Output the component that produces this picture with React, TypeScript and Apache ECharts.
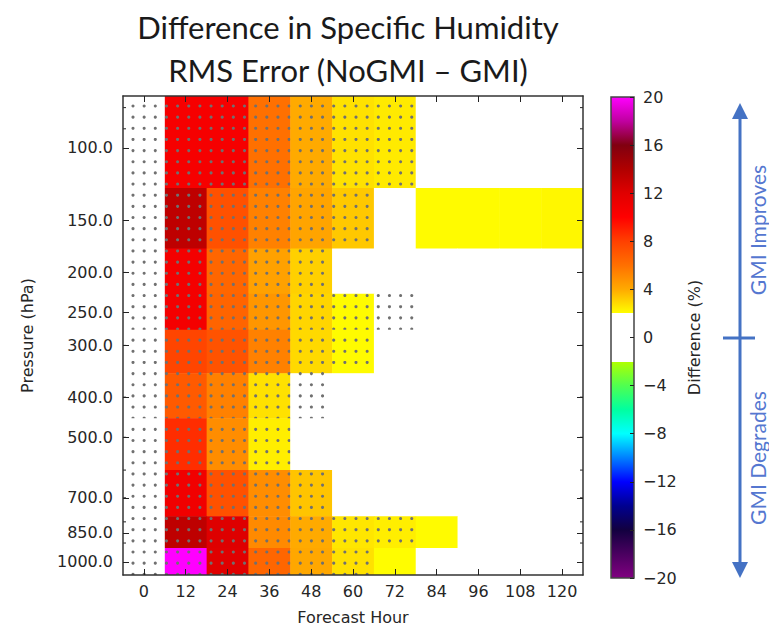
import React, { useEffect, useRef } from "react";
import * as echarts from "echarts";

// ---------- data ----------
const hours = [0, 12, 24, 36, 48, 60, 72, 84, 96, 108, 120];
const levels = [100, 150, 200, 250, 300, 400, 500, 700, 850, 1000];
// pressure cell edges (hPa), top to bottom
const levelEdges = [75, 125, 175, 225, 275, 350, 450, 600, 775, 925, 1075];
const hourHalfWidth = 6;
const pressureTicks = [100, 150, 200, 250, 300, 400, 500, 700, 850, 1000];
const pressureMinorTicks = [80, 90, 200, 300, 400, 500, 600, 700, 800, 900];
const hourTicks = [0, 12, 24, 36, 48, 60, 72, 84, 96, 108, 120];
const colorbarTicks = [-20, -16, -12, -8, -4, 0, 4, 8, 12, 16, 20];

// difference (%) per level (rows) and forecast hour (columns)
const diff100 = [0.6, 10.6, 10.6, 6.0, 4.0, 2.7, 2.5, 0.4, 0.3, 0.2, 0.3];
const diff150 = [0.8, 13.4, 7.3, 5.4, 4.2, 3.3, 1.4, 2.1, 2.1, 2.1, 2.2];
const diff200 = [0.7, 10.7, 6.4, 4.3, 3.1, 1.1, 0.6, 0.2, 0.1, 0.1, 0.2];
const diff250 = [0.7, 10.7, 6.5, 4.7, 3.0, 2.1, 1.5, 0.4, 0.2, 0.1, 0.1];
const diff300 = [0.5, 7.8, 7.2, 5.4, 2.9, 2.1, 1.0, 0.3, 0.2, 0.1, 0.1];
const diff400 = [0.4, 6.9, 5.4, 2.7, 1.3, 0.6, 0.3, 0.2, 0.1, 0.1, 0.1];
const diff500 = [0.3, 8.6, 5.0, 2.4, 0.8, 0.4, 0.2, 0.1, 0.1, 0.1, 0.1];
const diff700 = [0.5, 10.9, 7.3, 5.0, 3.4, 1.0, 0.6, 0.3, 0.2, 0.1, 0.1];
const diff850 = [0.6, 13.4, 12.1, 5.1, 4.0, 2.6, 2.4, 2.1, 0.5, 0.3, 0.2];
const diff1000 = [0.9, 20.0, 12.0, 6.4, 4.1, 2.7, 2.05, 0.4, 0.3, 0.2, 0.1];
const diffRows = [diff100, diff150, diff200, diff250, diff300, diff400, diff500, diff700, diff850, diff1000];

// statistically significant cells (stippled)
const sig100 = [1, 1, 1, 1, 1, 1, 1, 0, 0, 0, 0];
const sig150 = [1, 1, 1, 1, 1, 1, 0, 0, 0, 0, 0];
const sig200 = [1, 1, 1, 1, 1, 0, 0, 0, 0, 0, 0];
const sig250 = [1, 1, 1, 1, 1, 1, 1, 0, 0, 0, 0];
const sig300 = [1, 1, 1, 1, 1, 1, 0, 0, 0, 0, 0];
const sig400 = [1, 1, 1, 1, 1, 0, 0, 0, 0, 0, 0];
const sig500 = [1, 1, 1, 1, 0, 0, 0, 0, 0, 0, 0];
const sig700 = [1, 1, 1, 1, 1, 0, 0, 0, 0, 0, 0];
const sig850 = [1, 1, 1, 1, 1, 1, 1, 0, 0, 0, 0];
const sig1000 = [1, 1, 1, 1, 1, 1, 0, 0, 0, 0, 0];
const sigRows = [sig100, sig150, sig200, sig250, sig300, sig400, sig500, sig700, sig850, sig1000];

// colormap definition (value -> colour); |v| < 2 is white
const cmapStops: [number, string][] = [
  [-20, "#800080"], [-18, "#4a0060"], [-16, "#120040"], [-14, "#000090"], [-12, "#0000ff"],
  [-10, "#0080ff"], [-8, "#00ffff"], [-6, "#00ffa0"], [-4, "#50ff50"], [-2, "#b0ff00"],
  [2, "#ffff00"], [4, "#ffaa00"], [6, "#ff7000"], [8, "#ff4000"], [10, "#ff0000"],
  [12, "#e00000"], [14, "#b00000"], [16, "#800010"], [18, "#c000a0"], [20, "#ff00ff"],
];
const whiteBand = 2;

// ---------- helpers ----------
function hexToRgb(h: string) {
  const n = parseInt(h.slice(1), 16);
  return [(n >> 16) & 255, (n >> 8) & 255, n & 255];
}
function mix(a: string, b: string, t: number) {
  const ca = hexToRgb(a), cb = hexToRgb(b);
  const c = ca.map((v, i) => Math.round(v + (cb[i] - v) * t));
  return `rgb(${c[0]},${c[1]},${c[2]})`;
}
function cmapColor(v: number): string {
  if (v > -whiteBand && v < whiteBand) return "#ffffff";
  if (v <= cmapStops[0][0]) return cmapStops[0][1];
  const last = cmapStops[cmapStops.length - 1];
  if (v >= last[0]) return last[1];
  for (let i = 0; i < cmapStops.length - 1; i++) {
    const [a, ca] = cmapStops[i];
    const [b, cb] = cmapStops[i + 1];
    if (v >= a && v <= b) return mix(ca, cb, (v - a) / (b - a));
  }
  return "#ffffff";
}
const lg = (p: number) => Math.log10(p);
const minus = (s: string) => s.replace("-", "\u2212");

export default function App() {
  const ref = useRef<HTMLDivElement>(null);
  useEffect(() => {
    if (!ref.current) return;
    const chart = echarts.init(ref.current, null, { renderer: "svg" });

    const cellData: number[][] = [];
    diffRows.forEach((row, li) => {
      row.forEach((v, hi) => {
        cellData.push([hours[hi], lg(levels[li]), v, sigRows[li][hi], li]);
      });
    });

    const xMin = hours[0] - hourHalfWidth;
    const xMax = hours[hours.length - 1] + hourHalfWidth;
    const yMin = lg(levelEdges[0]);
    const yMax = lg(levelEdges[levelEdges.length - 1]);

    // colorbar gradient, top (20) to bottom (-20)
    const cbMin = colorbarTicks[0], cbMax = colorbarTicks[colorbarTicks.length - 1];
    const off = (v: number) => (cbMax - v) / (cbMax - cbMin);
    const grad: { offset: number; color: string }[] = [];
    [...cmapStops].reverse().forEach(([v, c]) => {
      if (v === -whiteBand) {
        grad.push({ offset: off(whiteBand), color: "#ffffff" });
        grad.push({ offset: off(-whiteBand), color: "#ffffff" });
      }
      grad.push({ offset: off(v), color: c });
    });

    const tickFont = { fontFamily: "DejaVu Sans", fontSize: 16, color: "#262626" };
    const frame = { show: true, onZero: false, lineStyle: { color: "#333", width: 1.5 } };

    const option: any = {
      animation: false,
      grid: [
        { left: 123, top: 96, width: 460, height: 481 },
        { left: 611, top: 97, width: 23, height: 481 },
      ],
      xAxis: [
        {
          type: "value", gridIndex: 0, min: xMin, max: xMax, position: "bottom", z: 10,
          axisLine: frame, splitLine: { show: false },
          axisTick: { show: true, inside: true, length: 6, customValues: hourTicks, lineStyle: { color: "#222" } },
          axisLabel: { customValues: hourTicks, margin: 8, ...tickFont },
          name: "Forecast Hour", nameLocation: "middle", nameGap: 34,
          nameTextStyle: { fontFamily: "DejaVu Sans", fontSize: 16, color: "#262626" },
        },
        {
          type: "value", gridIndex: 0, min: xMin, max: xMax, position: "top", z: 10,
          axisLine: frame, splitLine: { show: false },
          axisTick: { show: true, inside: true, length: 6, customValues: hourTicks, lineStyle: { color: "#222" } },
          axisLabel: { show: false },
        },
        { type: "value", gridIndex: 1, min: 0, max: 1, show: false },
      ],
      yAxis: [
        {
          type: "value", gridIndex: 0, min: yMin, max: yMax, inverse: true, position: "left", z: 10,
          axisLine: frame, splitLine: { show: false },
          axisTick: { show: true, inside: true, length: 6, customValues: pressureTicks.map(lg), lineStyle: { color: "#222" } },
          axisLabel: {
            customValues: pressureTicks.map(lg), margin: 10, ...tickFont,
            formatter: (v: number) => Math.round(Math.pow(10, v)).toFixed(1),
          },
          name: "Pressure (hPa)", nameLocation: "middle", nameGap: 88, nameRotate: 90,
          nameTextStyle: { fontFamily: "DejaVu Sans", fontSize: 16, color: "#262626" },
        },
        {
          type: "value", gridIndex: 0, min: yMin, max: yMax, inverse: true, position: "right", z: 10,
          axisLine: frame, splitLine: { show: false },
          axisTick: { show: true, inside: true, length: 6, customValues: pressureTicks.map(lg), lineStyle: { color: "#222" } },
          axisLabel: { show: false },
        },
        {
          type: "value", gridIndex: 1, min: cbMin, max: cbMax, interval: 4, position: "right", z: 10,
          axisLine: { show: false, onZero: false }, splitLine: { show: false },
          axisTick: { show: true, inside: true, length: 4, lineStyle: { color: "#222" } },
          axisLabel: { margin: 9, ...tickFont, formatter: (v: number) => minus(String(v)) },
          name: "Difference (%)", nameLocation: "middle", nameGap: 52, nameRotate: 90,
          nameTextStyle: { fontFamily: "DejaVu Sans", fontSize: 16, color: "#262626" },
        },
      ],
      series: [
        {
          type: "custom",
          xAxisIndex: 0, yAxisIndex: 0,
          encode: { x: 0, y: 1 },
          data: cellData,
          clip: true,
          z: 2,
          renderItem: (params: any, api: any) => {
            const h = api.value(0), v = api.value(2), sig = api.value(3), li = api.value(4);
            const p0 = api.coord([h - hourHalfWidth, lg(levelEdges[li])]);
            const p1 = api.coord([h + hourHalfWidth, lg(levelEdges[li + 1])]);
            const x0 = Math.min(p0[0], p1[0]), x1 = Math.max(p0[0], p1[0]);
            const y0 = Math.min(p0[1], p1[1]), y1 = Math.max(p0[1], p1[1]);
            const children: any[] = [
              { type: "rect", shape: { x: x0, y: y0, width: x1 - x0 + 0.5, height: y1 - y0 + 0.5 }, style: { fill: cmapColor(v) } },
            ];
            if (sig) {
              // stipple dots on a fixed screen-space lattice; each dot belongs to one cell
              const origin = api.coord([xMin, yMin]);
              const step = 11.15, start = 10;
              const iS = Math.ceil((x0 - origin[0] - start) / step);
              const jS = Math.ceil((y0 - origin[1] - start) / step);
              for (let i = iS; ; i++) {
                const cx = origin[0] + start + i * step;
                if (cx >= x1) break;
                for (let j = jS; ; j++) {
                  const cy = origin[1] + start + j * step;
                  if (cy >= y1) break;
                  children.push({ type: "circle", shape: { cx, cy, r: 1.55 }, style: { fill: "#707070" } });
                }
              }
            }
            return { type: "group", children };
          },
        },
        {
          // minor (log) ticks on the pressure axis, both sides
          type: "custom",
          xAxisIndex: 0, yAxisIndex: 0,
          data: pressureMinorTicks.map((p) => [xMin, lg(p)]),
          z: 5,
          renderItem: (params: any, api: any) => {
            const a = api.coord([xMin, api.value(1)]);
            const b = api.coord([xMax, api.value(1)]);
            return {
              type: "group",
              children: [
                { type: "line", shape: { x1: a[0], y1: a[1], x2: a[0] + 3, y2: a[1] }, style: { stroke: "#222", lineWidth: 1 } },
                { type: "line", shape: { x1: b[0], y1: b[1], x2: b[0] - 3, y2: b[1] }, style: { stroke: "#222", lineWidth: 1 } },
              ],
            };
          },
        },
        {
          type: "custom",
          xAxisIndex: 2, yAxisIndex: 2,
          data: [[0, cbMax]],
          renderItem: (params: any, api: any) => {
            const a = api.coord([0, cbMax]);
            const b = api.coord([1, cbMin]);
            return {
              type: "rect",
              shape: { x: a[0], y: a[1], width: b[0] - a[0], height: b[1] - a[1] },
              style: {
                fill: { type: "linear", x: 0, y: 0, x2: 0, y2: 1, colorStops: grad },
                stroke: "#444", lineWidth: 1.5,
              },
            };
          },
        },
      ],
      graphic: [
        {
          type: "text", x: 348, y: 27,
          style: { text: "Difference in Specific Humidity", fontFamily: "Lato", fontSize: 31, fill: "#1a1a1a", align: "center", verticalAlign: "middle" },
        },
        {
          type: "text", x: 348, y: 70,
          style: { text: "RMS Error (NoGMI \u2013 GMI)", fontFamily: "Lato", fontSize: 31, fill: "#1a1a1a", align: "center", verticalAlign: "middle" },
        },
        { type: "line", shape: { x1: 740, y1: 112, x2: 740, y2: 568 }, style: { stroke: "#4472c4", lineWidth: 3 } },
        { type: "line", shape: { x1: 723, y1: 338, x2: 755, y2: 338 }, style: { stroke: "#4472c4", lineWidth: 3 } },
        { type: "polygon", shape: { points: [[740, 103], [732, 119], [748, 119]] }, style: { fill: "#4472c4" } },
        { type: "polygon", shape: { points: [[740, 578], [732, 562], [748, 562]] }, style: { fill: "#4472c4" } },
        {
          type: "text", x: 757, y: 230, rotation: Math.PI / 2,
          style: { text: "GMI Improves", fontFamily: "Lato", fontSize: 21, fill: "#5577d0", align: "center", verticalAlign: "middle" },
        },
        {
          type: "text", x: 757, y: 458, rotation: Math.PI / 2,
          style: { text: "GMI Degrades", fontFamily: "Lato", fontSize: 21, fill: "#5577d0", align: "center", verticalAlign: "middle" },
        },
      ],
    };
    chart.setOption(option);
    return () => chart.dispose();
  }, []);
  return <div ref={ref} style={{ position: "fixed", left: 0, top: 0, width: 769, height: 630, background: "#fff" }} />;
}
